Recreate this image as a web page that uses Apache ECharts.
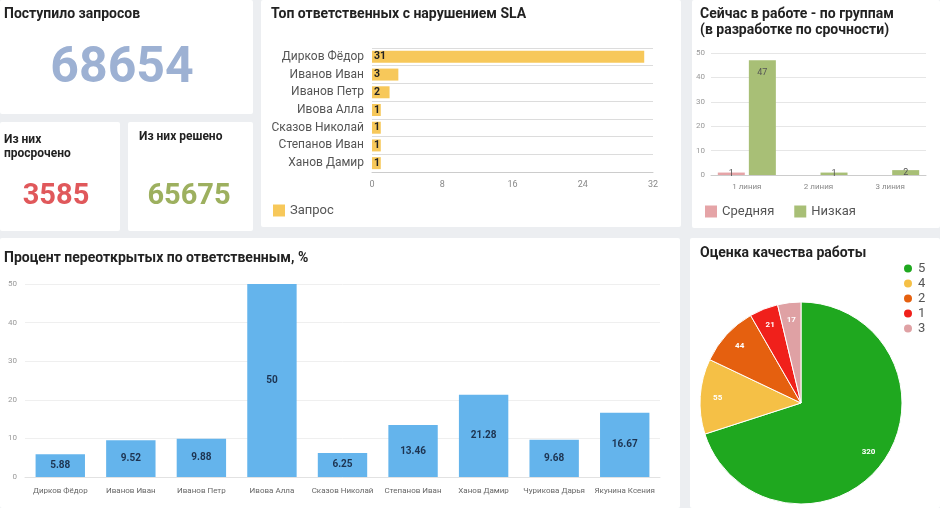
<!DOCTYPE html>
<html><head><meta charset="utf-8">
<script src="https://cdn.jsdelivr.net/npm/echarts@6/dist/echarts.min.js"></script>
<style>
html,body{margin:0;padding:0;background:#eceef1;width:940px;height:508px;overflow:hidden;}
.p{position:absolute;background:#fff;border-radius:2px;}
#c{position:absolute;left:0;top:0;width:940px;height:508px;}
</style>
</head><body>
<div class="p" style="left:0;top:0;width:253px;height:114px"></div>
<div class="p" style="left:0;top:122px;width:120px;height:109px"></div>
<div class="p" style="left:128px;top:122px;width:125px;height:109px"></div>
<div class="p" style="left:261px;top:0;width:420px;height:227px"></div>
<div class="p" style="left:692px;top:0;width:248px;height:228px"></div>
<div class="p" style="left:0;top:238px;width:680px;height:270px"></div>
<div class="p" style="left:690px;top:238px;width:250px;height:270px"></div>
<div id="c"></div>
<script>
// ---- data ----
const kpiTotal = 68654;
const kpiOverdue = 3585;
const kpiSolved = 65675;

const slaNames = ['Дирков Фёдор', 'Иванов Иван', 'Иванов Петр', 'Ивова Алла', 'Сказов Николай', 'Степанов Иван', 'Ханов Дамир'];
const slaValues = [31, 3, 2, 1, 1, 1, 1];
const slaTicks = [0, 8, 16, 24, 32];

const groupCats = ['1 линия', '2 линия', '3 линия'];
const midValues = [1, null, null];
const lowValues = [47, 1, 2];

const reopenNames = ['Дирков Фёдор', 'Иванов Иван', 'Иванов Петр', 'Ивова Алла', 'Сказов Николай', 'Степанов Иван', 'Ханов Дамир', 'Чурикова Дарья', 'Якунина Ксения'];
const reopenValues = [5.88, 9.52, 9.88, 50, 6.25, 13.46, 21.28, 9.68, 16.67];

const ratingNames = ['5', '4', '2', '1', '3'];
const ratingValues = [320, 55, 44, 21, 17];

// ---- styles ----
const FONT = 'Roboto';
const pieColors = ['#1fa81f', '#f5c046', '#e5600f', '#f0201b', '#dfa1a4'];
const titleStyle = {fontFamily: FONT, fontSize: 14, fontWeight: 'bold', color: '#222', lineHeight: 16};

function smallInside(arr) {
  return arr.map(v => v == null ? null : (v < 5 ? {value: v, label: {position: 'inside'}} : v));
}

const chart = echarts.init(document.getElementById('c'), null, {renderer: 'canvas'});
const option = {
  animation: false,
  backgroundColor: 'transparent',
  textStyle: {fontFamily: FONT},
  title: [
    {text: 'Поступило запросов', left: 4, top: 6, padding: 0, textStyle: titleStyle},
    {text: 'Из них\nпросрочено', left: 4, top: 133, padding: 0, textStyle: Object.assign({}, titleStyle, {fontSize: 12, lineHeight: 14})},
    {text: 'Из них решено', left: 139, top: 130, padding: 0, textStyle: Object.assign({}, titleStyle, {fontSize: 12, lineHeight: 14})},
    {text: 'Топ ответственных с нарушением SLA', left: 271, top: 6, padding: 0, textStyle: titleStyle},
    {text: 'Сейчас в работе - по группам\n(в разработке по срочности)', left: 700, top: 6, padding: 0, textStyle: titleStyle},
    {text: 'Процент переоткрытых по ответственным, %', left: 4, top: 250, padding: 0, textStyle: titleStyle},
    {text: 'Оценка качества работы', left: 700, top: 245, padding: 0, textStyle: titleStyle}
  ],
  graphic: {elements: [
    {type: 'text', x: 122, y: 69, style: {text: String(kpiTotal), fill: '#9db1d3', font: 'bold 50px Roboto', textAlign: 'center', textVerticalAlign: 'middle'}},
    {type: 'text', x: 56, y: 197, style: {text: String(kpiOverdue), fill: '#e0585b', font: 'bold 29px Roboto', textAlign: 'center', textVerticalAlign: 'middle'}},
    {type: 'text', x: 189, y: 197, style: {text: String(kpiSolved), fill: '#9db05f', font: 'bold 29px Roboto', textAlign: 'center', textVerticalAlign: 'middle'}}
  ]},
  legend: [
    {data: ['Запрос'], left: 273, top: 204, padding: 0, icon: 'rect', itemWidth: 12, itemHeight: 12, textStyle: {fontSize: 13, color: '#555'}},
    {data: ['Средняя', 'Низкая'], left: 705, top: 205, padding: 0, icon: 'rect', itemWidth: 12, itemHeight: 12, itemGap: 20, textStyle: {fontSize: 13, color: '#555'}},
    {data: ratingNames, orient: 'vertical', left: 902, top: 262, padding: 0, icon: 'circle', itemWidth: 10, itemHeight: 10, itemGap: 2, textStyle: {fontSize: 13, color: '#555'}}
  ],
  grid: [
    {left: 372, right: 287, top: 48, bottom: 336, outerBoundsMode: 'none'},
    {left: 711, right: 14, top: 53, bottom: 333, outerBoundsMode: 'none'},
    {left: 25, right: 280, top: 284, bottom: 31, outerBoundsMode: 'none'}
  ],
  xAxis: [
    {gridIndex: 0, type: 'value', min: slaTicks[0], max: slaTicks[slaTicks.length - 1], interval: slaTicks[1] - slaTicks[0],
      axisLine: {show: true, lineStyle: {color: '#ccc'}}, axisTick: {show: false}, splitLine: {show: false},
      axisLabel: {fontSize: 9, color: '#888', margin: 8}},
    {gridIndex: 1, type: 'category', data: groupCats, axisLine: {show: true, lineStyle: {color: '#ccc'}}, axisTick: {show: false},
      axisLabel: {fontSize: 8, color: '#888', margin: 8}},
    {gridIndex: 2, type: 'category', data: reopenNames, axisLine: {show: true, lineStyle: {color: '#e2e2e2'}}, axisTick: {show: false},
      axisLabel: {fontSize: 8, color: '#666', margin: 10, interval: 0}}
  ],
  yAxis: [
    {gridIndex: 0, type: 'category', data: slaNames, inverse: true, axisLine: {show: false}, axisTick: {show: false},
      splitLine: {show: true, lineStyle: {color: '#dcdcdc'}}, axisLabel: {fontSize: 12, color: '#555', margin: 8}},
    {gridIndex: 1, type: 'value', min: 0, max: 50, interval: 10, axisLine: {show: false}, axisTick: {show: false},
      axisLabel: {fontSize: 8, color: '#999', margin: 6}, splitLine: {show: true, lineStyle: {color: '#e6e6e6'}}},
    {gridIndex: 2, type: 'value', min: 0, max: 50, interval: 10, axisLine: {show: false}, axisTick: {show: false},
      axisLabel: {fontSize: 8, color: '#999', margin: 8}, splitLine: {show: true, lineStyle: {color: '#efefef'}}}
  ],
  series: [
    {type: 'bar', name: 'Запрос', xAxisIndex: 0, yAxisIndex: 0, data: slaValues, barWidth: 12,
      itemStyle: {color: '#f7c85a'},
      label: {show: true, position: 'insideLeft', distance: 2, fontSize: 10.5, fontWeight: 'bold', color: '#222'}},
    {type: 'bar', name: 'Средняя', xAxisIndex: 1, yAxisIndex: 1, data: smallInside(midValues), barWidth: 27, barGap: '15%',
      itemStyle: {color: '#e5a4a7'},
      label: {show: true, position: 'insideTop', distance: 8, fontSize: 9, color: '#555'}},
    {type: 'bar', name: 'Низкая', xAxisIndex: 1, yAxisIndex: 1, data: smallInside(lowValues), barWidth: 27, barGap: '15%',
      itemStyle: {color: '#a8bf76'},
      label: {show: true, position: 'insideTop', distance: 8, fontSize: 9, color: '#555'}},
    {type: 'bar', name: 'Процент', xAxisIndex: 2, yAxisIndex: 2, data: reopenValues, barWidth: '70%',
      itemStyle: {color: '#64b4ec'},
      label: {show: true, position: 'inside', fontSize: 10, fontWeight: 'bold', color: '#1d3350'}},
    {type: 'pie', name: 'Оценка', center: [801, 403], radius: 101, startAngle: 90, clockwise: true,
      data: ratingNames.map((n, i) => ({name: n, value: ratingValues[i], itemStyle: {color: pieColors[i]}})),
      itemStyle: {borderColor: '#fff', borderWidth: 1},
      label: {show: false}, labelLine: {show: false}},
    {type: 'pie', name: 'Оценка-подписи', center: [801, 403], radius: [60, 101], startAngle: 90, clockwise: true, silent: true,
      legendHoverLink: false,
      data: ratingNames.map((n, i) => ({name: n, value: ratingValues[i]})),
      itemStyle: {color: 'rgba(0,0,0,0)', borderWidth: 0},
      label: {show: true, position: 'inside', formatter: '{c}', fontSize: 8, fontWeight: 'bold', color: '#fff'}, labelLine: {show: false}}
  ]
};
chart.setOption(option);
</script>
</body></html>
